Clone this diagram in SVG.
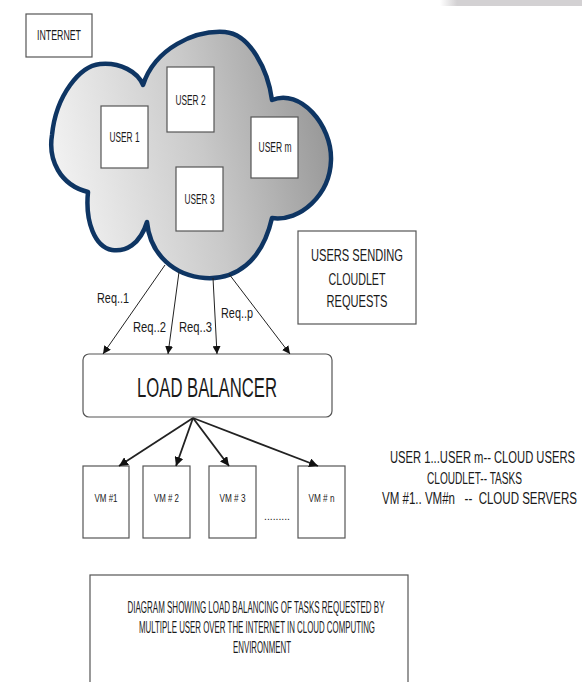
<svg xmlns="http://www.w3.org/2000/svg" width="582" height="682" viewBox="0 0 582 682">
<defs>
<linearGradient id="cloudFill" gradientUnits="userSpaceOnUse" x1="60" y1="210" x2="330" y2="150">
<stop offset="0" stop-color="#f3f3f3"/>
<stop offset="0.55" stop-color="#c9c9c9"/>
<stop offset="1" stop-color="#999999"/>
</linearGradient>
<linearGradient id="barFill" x1="0" y1="0" x2="1" y2="0">
<stop offset="0" stop-color="#d3d1d3" stop-opacity="0"/>
<stop offset="0.12" stop-color="#d3d1d3"/>
<stop offset="1" stop-color="#d3d1d3"/>
</linearGradient>
<marker id="ah" viewBox="0 0 10 10" refX="10" refY="5" markerWidth="8" markerHeight="8" markerUnits="userSpaceOnUse" orient="auto">
<path d="M0,0 L10,5 L0,10 z" fill="#111"/>
</marker>
<marker id="ah2" viewBox="0 0 10 10" refX="10" refY="5" markerWidth="9" markerHeight="9" markerUnits="userSpaceOnUse" orient="auto">
<path d="M0,0 L10,5 L0,10 z" fill="#111"/>
</marker>
</defs>
<style>
text{font-family:"Liberation Sans",Arial,sans-serif;fill:#1a1a1a}
.box{fill:#fff;stroke:#555;stroke-width:1.2}
.c{text-anchor:middle}
.e{text-anchor:end}
.req{stroke:#222;stroke-width:1;fill:none}
.vm{stroke:#222;stroke-width:1.8;fill:none}
</style>
<rect x="440" y="0" width="142" height="6" fill="url(#barFill)"/>

<g id="internet">
<rect class="box" x="26" y="14" width="66" height="43"/>
<text class="c" x="59" y="40" font-size="15" textLength="44" lengthAdjust="spacingAndGlyphs">INTERNET</text>
</g>

<g id="cloud">
<path d="M143,85 C155,48 195,30 225,32 C250,34 268,70 272,100 C300,88 332,125 331,160 C330,195 300,222 272,218 C262,262 235,280 205,278 C175,276 150,255 147,222 C140,245 125,252 112,250 C95,247 85,222 88,192 C60,185 48,160 52,135 C56,95 80,66 100,64 C120,62 138,72 143,85 Z" fill="url(#cloudFill)" stroke="#0e3563" stroke-width="4.5" stroke-linejoin="round"/>
</g>

<g id="user1">
<rect class="box" x="101" y="106" width="47" height="62"/>
<text class="c" x="124.5" y="142" font-size="14" textLength="30" lengthAdjust="spacingAndGlyphs">USER 1</text>
</g>
<g id="user2">
<rect class="box" x="167" y="67" width="47" height="65"/>
<text class="c" x="190.5" y="105" font-size="14" textLength="30" lengthAdjust="spacingAndGlyphs">USER 2</text>
</g>
<g id="userm">
<rect class="box" x="251" y="117" width="47" height="61"/>
<text class="c" x="275" y="152" font-size="14" textLength="33" lengthAdjust="spacingAndGlyphs">USER m</text>
</g>
<g id="user3">
<rect class="box" x="176" y="167" width="47" height="64"/>
<text class="c" x="199.5" y="204" font-size="14" textLength="30" lengthAdjust="spacingAndGlyphs">USER 3</text>
</g>

<g id="users-sending">
<rect class="box" x="298" y="231" width="118" height="93"/>
<text class="c" x="357" y="261" font-size="17" textLength="92" lengthAdjust="spacingAndGlyphs">USERS SENDING</text>
<text class="c" x="357" y="285" font-size="17" textLength="57" lengthAdjust="spacingAndGlyphs">CLOUDLET</text>
<text class="c" x="357" y="307" font-size="17" textLength="61" lengthAdjust="spacingAndGlyphs">REQUESTS</text>
</g>

<g id="load-balancer">
<rect class="box" x="83" y="354" width="249" height="63" rx="6"/>
<text class="c" x="207" y="397" font-size="27" textLength="140" lengthAdjust="spacingAndGlyphs">LOAD BALANCER</text>
</g>

<g id="vm1">
<rect class="box" x="83" y="466" width="46" height="72"/>
<text class="c" x="106" y="502" font-size="11" textLength="23" lengthAdjust="spacingAndGlyphs">VM #1</text>
</g>
<g id="vm2">
<rect class="box" x="143" y="466" width="47" height="72"/>
<text class="c" x="166.5" y="502" font-size="11" textLength="25" lengthAdjust="spacingAndGlyphs">VM # 2</text>
</g>
<g id="vm3">
<rect class="box" x="209" y="466" width="47" height="72"/>
<text class="c" x="232.5" y="502" font-size="11" textLength="26" lengthAdjust="spacingAndGlyphs">VM # 3</text>
</g>
<g id="vmn">
<rect class="box" x="298" y="466" width="47" height="72"/>
<text class="c" x="321.5" y="502" font-size="11" textLength="26" lengthAdjust="spacingAndGlyphs">VM # n</text>
</g>
<text x="264" y="520" font-size="11" textLength="26" lengthAdjust="spacingAndGlyphs">.........</text>

<g id="connectors">
<line class="req" x1="165" y1="265" x2="103" y2="354" marker-end="url(#ah)"/>
<line class="req" x1="179" y1="272" x2="168" y2="354" marker-end="url(#ah)"/>
<line class="req" x1="213" y1="278" x2="217" y2="354" marker-end="url(#ah)"/>
<line class="req" x1="229" y1="274" x2="290" y2="354" marker-end="url(#ah)"/>
<line class="vm" x1="193" y1="418" x2="119" y2="466" marker-end="url(#ah2)"/>
<line class="vm" x1="193" y1="418" x2="176" y2="466" marker-end="url(#ah2)"/>
<line class="vm" x1="193" y1="418" x2="229" y2="466" marker-end="url(#ah2)"/>
<line class="vm" x1="193" y1="418" x2="318" y2="466" marker-end="url(#ah2)"/>
<text x="97" y="303" font-size="15" textLength="32" lengthAdjust="spacingAndGlyphs">Req..1</text>
<text x="133" y="332" font-size="15" textLength="33" lengthAdjust="spacingAndGlyphs">Req..2</text>
<text x="179" y="332" font-size="15" textLength="33" lengthAdjust="spacingAndGlyphs">Req..3</text>
<text x="221" y="318" font-size="15" textLength="32" lengthAdjust="spacingAndGlyphs">Req..p</text>
</g>

<g id="legend" transform="scale(1,1.5)">
<text class="e" x="575" y="308.67" font-size="11.5" textLength="185" lengthAdjust="spacingAndGlyphs">USER 1...USER m-- CLOUD USERS</text>
<text class="e" x="522" y="322.67" font-size="11.5" textLength="95" lengthAdjust="spacingAndGlyphs">CLOUDLET-- TASKS</text>
<text class="e" x="577" y="336" font-size="11.5" textLength="195" lengthAdjust="spacingAndGlyphs" style="white-space:pre">VM #1.. VM#n   --  CLOUD SERVERS</text>
</g>

<g id="caption">
<rect class="box" x="90" y="575" width="318" height="120"/>
<g transform="scale(1,1.75)">
<text class="c" x="256" y="350.29" font-size="9" textLength="257" lengthAdjust="spacingAndGlyphs">DIAGRAM SHOWING LOAD BALANCING OF TASKS REQUESTED BY</text>
<text class="c" x="257" y="361.71" font-size="9" textLength="236" lengthAdjust="spacingAndGlyphs">MULTIPLE USER OVER THE INTERNET IN CLOUD COMPUTING</text>
<text class="c" x="262" y="373.14" font-size="9" textLength="58" lengthAdjust="spacingAndGlyphs">ENVIRONMENT</text>
</g>
</g>
</svg>
